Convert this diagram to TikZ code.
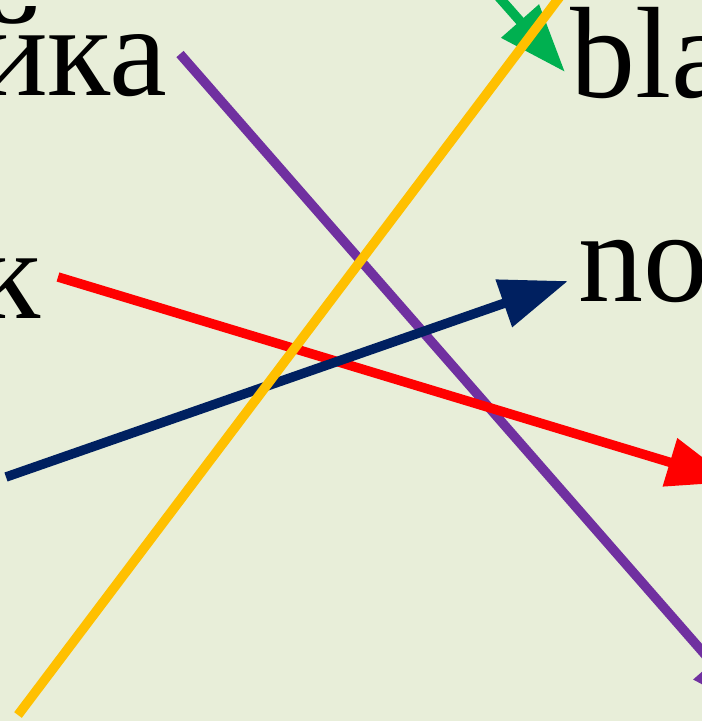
\documentclass[tikz,border=0pt]{standalone}
\usepackage{fontspec}
\setmainfont{Liberation Serif}
\usetikzlibrary{arrows.meta}
\definecolor{bg}{RGB}{232,238,217}
\definecolor{cpurple}{HTML}{7030A0}
\definecolor{cyellow}{HTML}{FFC000}
\definecolor{cred}{HTML}{FF0000}
\definecolor{cnavy}{HTML}{002060}
\definecolor{cgreen}{HTML}{00B050}
\tikzset{
  word/.style={inner sep=0pt, font=\fontsize{130}{132}\selectfont, text=black},
  conn/.style={line width=9.5pt},
  head/.style={-{Triangle[length=68pt,width=48pt]}}
}
\begin{document}
\begin{tikzpicture}[x=1pt,y=-1pt]
\useasboundingbox (0,0) rectangle (702,721);
\fill[bg] (0,0) rectangle (702,721);
\clip (0,0) rectangle (702,721);
\node[word, anchor=base east] (w1) at (167,95) {йка};
\node[word, anchor=base east] (w2) at (41,318) {к};
\node[word, anchor=base west] (w3) at (570,97) {bla};
\node[word, anchor=base west] (w4) at (578,301) {no};
\coordinate (ps) at (180,54);
\coordinate (pt) at (757,714);
\coordinate (ys) at (18,715);
\coordinate (yt) at (580,-30);
\coordinate (rs) at (58,277);
\coordinate (rt) at (735,482);
\coordinate (ns) at (6,477);
\coordinate (nt) at (568,281);
\coordinate (gs) at (475,-30);
\coordinate (gt) at (565,72);
\draw[conn, cgreen, head] (gs) -- (gt);
\draw[conn, cpurple, head] (ps) -- (pt);
\draw[conn, cred, head] (rs) -- (rt);
\draw[conn, cnavy, head] (ns) -- (nt);
\draw[conn, cyellow] (ys) -- (yt);
\end{tikzpicture}
\end{document}
